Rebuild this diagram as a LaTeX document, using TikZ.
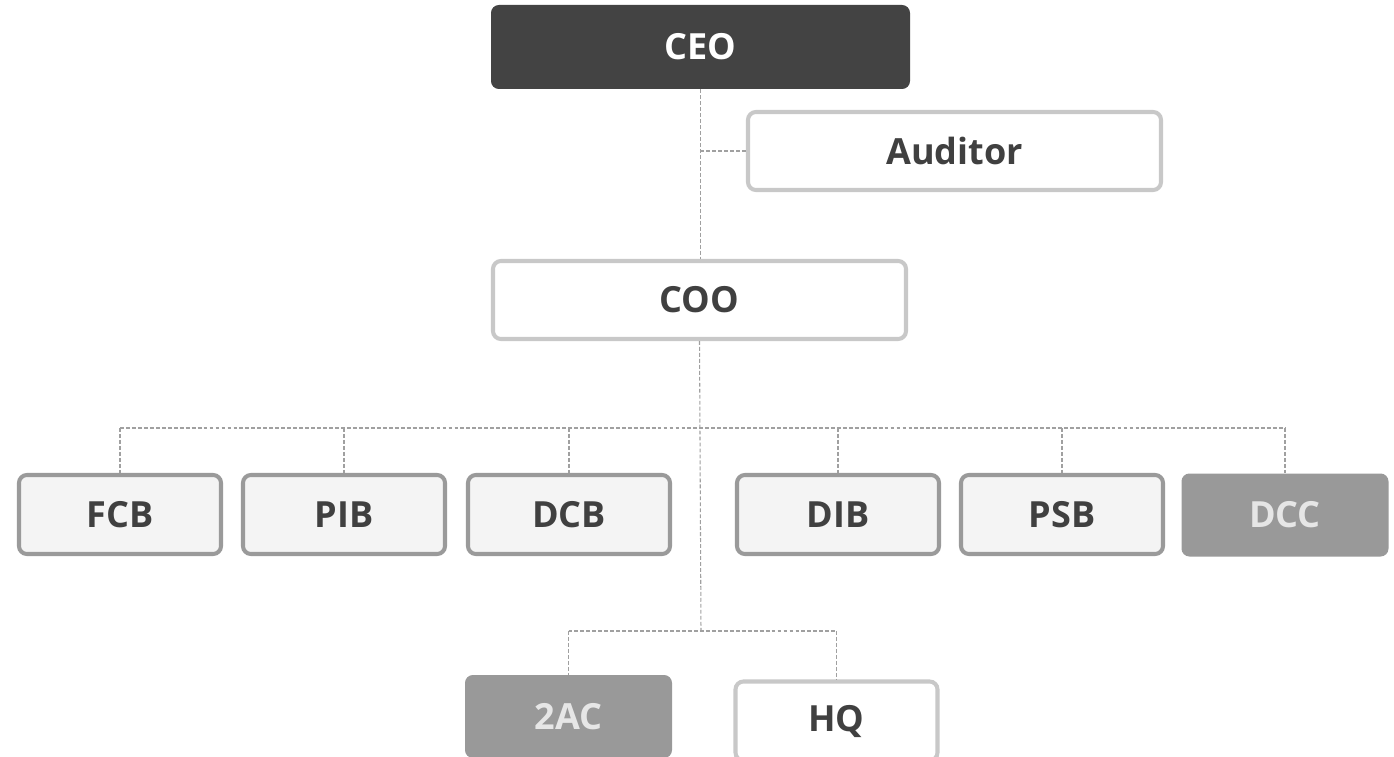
\documentclass[tikz,border=0pt]{standalone}
\usepackage{fontspec}
\setmainfont{Open Sans}

\definecolor{darkbox}{HTML}{434343}
\definecolor{labeltxt}{HTML}{404040}
\definecolor{paleline}{HTML}{C8C8C8}
\definecolor{midline}{HTML}{9A9A9A}
\definecolor{palefill}{HTML}{F4F4F4}
\definecolor{greyfill}{HTML}{999999}
\definecolor{greytxt}{HTML}{E6E6E6}
\definecolor{linkgray}{HTML}{A0A0A0}

\tikzset{
  unit/.style={rectangle,rounded corners=4.5pt,align=center,
    font=\fontsize{20.5}{24}\selectfont\bfseries},
  topbox/.style={unit,fill=darkbox,text=white,minimum width=419*0.02cm,minimum height=84*0.02cm},
  whitebox/.style={unit,draw=paleline,line width=2.3pt,fill=white,text=labeltxt,
    minimum width=413*0.02cm,minimum height=78*0.02cm},
  branchbox/.style={unit,draw=midline,line width=2.3pt,fill=palefill,text=labeltxt,
    minimum width=202*0.02cm,minimum height=79*0.02cm},
  greybox/.style={unit,fill=greyfill,text=greytxt,minimum width=207*0.02cm,minimum height=83*0.02cm},
  link/.style={draw=linkgray,line width=0.6pt,dash pattern=on 2.2pt off 1.2pt}
}

\begin{document}
\begin{tikzpicture}[x=0.02cm,y=-0.02cm]

  \clip (0,0) rectangle (1394,757);
  \fill[white] (0,0) rectangle (1394,757);

  \node (ceo) at (700.5,47) [topbox] {CEO};
  \node (auditor) at (954.5,151) [whitebox] {Auditor};
  \node (coo) at (699.5,300) [whitebox] {COO};

  \node (fcb) at (120,514.5) [branchbox] {FCB};
  \node (pib) at (344,514.5) [branchbox] {PIB};
  \node (dcb) at (569,514.5) [branchbox] {DCB};
  \node (dib) at (838,514.5) [branchbox] {DIB};
  \node (psb) at (1062,514.5) [branchbox] {PSB};
  \node (dcc) at (1285,515) [greybox] {DCC};

  \node (twoac) at (568.5,716.5) [greybox] {2AC};
  \node (hq) at (836.5,721) [branchbox,draw=paleline,fill=white] {HQ};

  % junction points
  \coordinate (aud) at (ceo.south |- auditor.west);
  \coordinate (bus) at (701,428);
  \coordinate (low) at (701,631);

  \draw[link] (ceo.south) -- (ceo.south |- coo.north);
  \draw[link] (aud) -- (auditor.west);
  \draw[link] (coo.south) -- (low);
  \draw[link] (fcb.north |- bus) -- (dcc.north |- bus);
  \foreach \n in {fcb,pib,dcb,dib,psb,dcc} {
    \draw[link] (\n.north |- bus) -- (\n.north);
  }
  \draw[link] (twoac.north |- low) -- (hq.north |- low);
  \draw[link] (twoac.north |- low) -- (twoac.north);
  \draw[link] (hq.north |- low) -- (hq.north);

\end{tikzpicture}
\end{document}
